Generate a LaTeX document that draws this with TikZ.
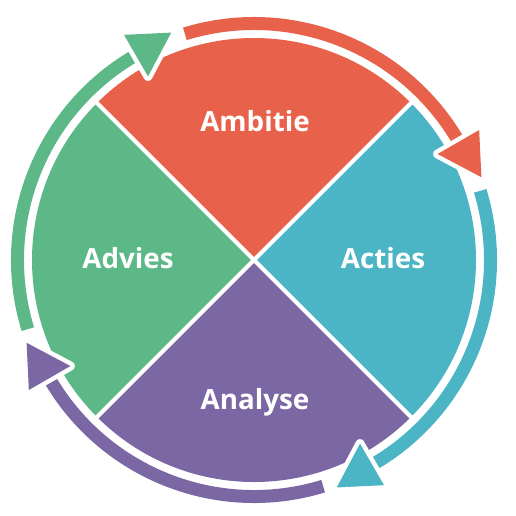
\documentclass[tikz,border=0pt]{standalone}
\usepackage{fontspec}
\setmainfont{Open Sans}
\definecolor{ambred}{RGB}{232,97,74}
\definecolor{actblue}{RGB}{75,180,197}
\definecolor{anapurple}{RGB}{124,103,165}
\definecolor{advgreen}{RGB}{93,184,135}

\begin{document}
\begin{tikzpicture}[x=0.02cm,y=0.02cm,
 sector/.style={fill=#1},
 ring/.style={draw=#1,line width=0.26cm},
 arrowtri/.style={fill=#1,preaction={draw=white,line width=0.18cm,line join=round}},
 gap/.style={draw=white,line width=0.08cm},
 phase/.style={text=white,font=\bfseries\fontsize{15.8}{18}\selectfont,anchor=base}]
\useasboundingbox (-254,-255) rectangle (262,260);
% the four quarters
\fill[sector=ambred] (0,0) -- (45:222) arc[start angle=45,end angle=135,radius=222] -- cycle;
\fill[sector=actblue] (0,0) -- (-45:222) arc[start angle=-45,end angle=45,radius=222] -- cycle;
\fill[sector=anapurple] (0,0) -- (-135:222) arc[start angle=-135,end angle=-45,radius=222] -- cycle;
\fill[sector=advgreen] (0,0) -- (135:222) arc[start angle=135,end angle=225,radius=222] -- cycle;
\draw[gap] (45:230) -- (225:230);
\draw[gap] (135:230) -- (-45:230);
% the cycle round it
\draw[ring=ambred] (107:236.5) arc[start angle=107,end angle=30,radius=236.5];
\draw[ring=actblue] (17:236.5) arc[start angle=17,end angle=-60,radius=236.5];
\draw[ring=anapurple] (-73:236.5) arc[start angle=-73,end angle=-150,radius=236.5];
\draw[ring=advgreen] (-163:236.5) arc[start angle=-163,end angle=-240,radius=236.5];
\fill[arrowtri=ambred] (30:212) -- (30:260) -- (20:242) -- cycle;
\fill[arrowtri=actblue] (-60:212) -- (-60:260) -- (-70:242) -- cycle;
\fill[arrowtri=anapurple] (-150:212) -- (-150:260) -- (-160:242) -- cycle;
\fill[arrowtri=advgreen] (120:212) -- (120:260) -- (110:242) -- cycle;
\node[phase] (ambitie) at (1,129) {Ambitie};
\node[phase] (acties) at (129,-8) {Acties};
\node[phase] (analyse) at (1,-149) {Analyse};
\node[phase] (advies) at (-126,-8) {Advies};
\end{tikzpicture}
\end{document}
